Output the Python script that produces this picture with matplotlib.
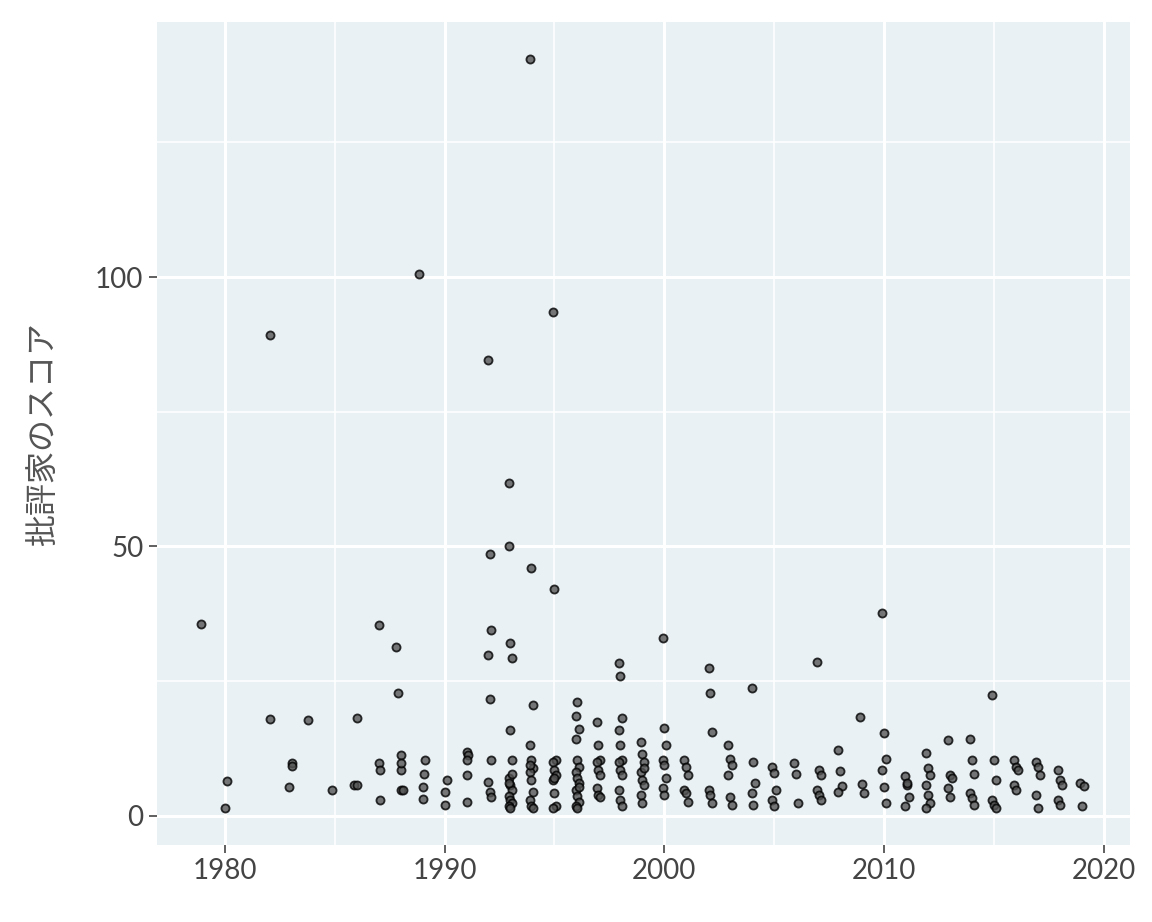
import matplotlib
matplotlib.use("Agg")
import matplotlib.pyplot as plt
import numpy as np

# data: per year lists of (year_x, score)
years = [1978.9,1980.0,1980.1,1982.05,1982.05,1982.9,1983.05,1983.05,1983.8,1984.9,1985.9,1986.0,1986.0,
         1987.0,1987.0,1987.05,1987.05,1987.8,1987.9,1988.0,1988.0,1988.1,1988.0,1988.0,1988.85,1989.0,1989.05,1989.1,1989.0,
         1990.0,1990.0,1990.1,1991.0,1991.05,1991.0,1991.0,1991.0]
scores = [35.6,1.5,6.5,89.2,18.0,5.4,9.8,9.3,17.8,4.8,5.8,5.8,18.2,
          35.4,9.8,8.5,3.0,31.4,22.8,8.5,4.8,4.8,11.3,9.8,100.5,5.4,7.8,10.4,3.2,
          4.5,2.0,6.7,11.9,11.3,10.4,7.6,2.6]

groups = {
    1992.05: [84.6,48.6,34.5,29.9,21.7,10.4,6.3,4.5,3.5],
    1993.0: [61.8,32.1,29.3,50.1,16.0,10.4,7.1,5.8,4.8,3.7,3.0,2.4,1.9,1.5,7.8,6.1],
    1993.95: [140.4,46.0,20.6,13.2,10.4,8.9,8.2,6.7,4.5,3.0,1.9,1.5,9.5],
    1995.0: [93.5,42.1,10.4,10.0,8.5,7.6,6.7,4.3,1.9,1.5,7.1],
    1996.05: [18.6,21.1,16.1,14.3,10.4,9.1,8.2,7.1,6.1,4.8,3.7,2.6,1.9,1.5,5.4],
    1997.0: [17.4,13.2,10.4,10.0,8.5,7.6,5.2,3.9,3.5],
    1998.0: [28.4,26.0,18.2,16.0,13.2,10.4,10.0,8.5,7.6,4.8,3.0,1.9],
    1999.0: [13.7,11.5,10.0,8.2,6.7,5.8,3.9,2.4,8.9],
    2000.0: [33.0,16.3,13.2,10.4,9.5,7.1,5.2,3.9],
    2001.0: [10.4,9.1,7.6,4.8,4.3,2.6],
    2002.1: [27.5,22.8,15.6,4.8,3.9,2.4],
    2003.0: [13.2,10.6,9.5,7.6,3.5,2.0],
    2004.05: [23.7,10.0,6.1,4.3,2.0],
    2005.0: [9.1,8.0,4.8,3.0,1.9],
    2006.0: [9.8,7.8,2.4],
    2007.05: [28.6,8.5,7.6,4.8,3.9,3.0],
    2008.0: [12.2,8.3,5.6,4.5],
    2009.0: [18.4,5.9,4.3],
    2010.0: [37.7,15.4,10.6,8.5,5.4,2.4],
    2011.05: [7.4,5.8,3.5,1.9,6.1],
    2012.0: [11.7,8.9,7.6,5.8,3.9,2.4,1.5],
    2013.0: [14.1,7.6,7.1,5.2,3.5],
    2014.0: [14.3,10.4,7.8,4.3,3.3,2.0],
    2015.0: [22.4,10.4,6.7,3.0,2.0,1.5],
    2016.0: [10.4,9.1,8.5,5.8,4.8],
    2017.0: [10.0,9.1,7.6,3.9,1.5],
    2018.0: [8.5,6.7,5.8,3.0,2.0],
    2019.0: [6.1,1.9,5.6],
}
for yr, vals in groups.items():
    for i, v in enumerate(vals):
        years.append(yr + ((i % 3) - 1) * 0.08)
        scores.append(v)

plt.rcParams['font.family'] = ['Lato', 'Noto Sans CJK JP', 'DejaVu Sans']
fig = plt.figure(figsize=(11.52, 9.22), dpi=100)
ax = fig.add_axes([0.136, 0.0835, 0.845, 0.8925])
ax.set_facecolor('#e9f1f5')
ax.scatter(years, scores, s=34, facecolor='#555555', edgecolor='black', linewidth=1.3, alpha=0.8, zorder=3)
ax.set_xticks([1980, 1990, 2000, 2010, 2020])
ax.set_yticks([0, 50, 100])
ax.set_xticks(np.arange(1975, 2025, 5), minor=True)
ax.set_yticks([25, 75, 125], minor=True)
ax.set_xlim(1976.9, 2021.2)
ax.set_ylim(-5.4, 147.3)
ax.grid(which='major', color='white', linewidth=2.2, zorder=0)
ax.grid(which='minor', color='white', linewidth=1.1, zorder=0)
ax.set_axisbelow(True)
for s in ax.spines.values():
    s.set_visible(False)
ax.tick_params(which='major', length=6, color='#444444', labelsize=20, labelcolor='#444444', width=1.2)
ax.tick_params(which='minor', length=0)
ax.set_ylabel('批評家のスコア', fontsize=23, color='#555555', family=['Noto Sans CJK JP', 'DejaVu Sans'], labelpad=26)
fig.savefig('out.png', dpi=100)
